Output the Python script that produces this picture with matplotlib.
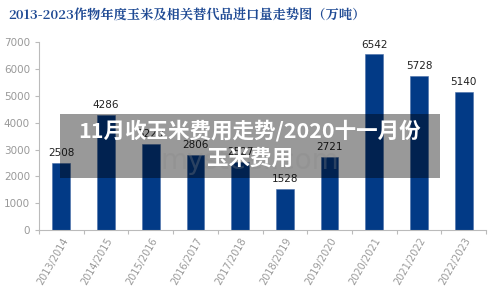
import matplotlib.pyplot as plt
import matplotlib.patches as mpatches
import numpy as np

plt.rcParams['font.family'] = ['Noto Sans CJK SC', 'DejaVu Sans']

seasons = ['2013/2014', '2014/2015', '2015/2016', '2016/2017', '2017/2018',
           '2018/2019', '2019/2020', '2020/2021', '2021/2022', '2022/2023']
imports = [2508, 4286, 3220, 2806, 2527, 1528, 2721, 6542, 5728, 5140]

title = '2013-2023作物年度玉米及相关替代品进口量走势图（万吨）'
banner_lines = ['11月收玉米费用走势/2020十一月份', '玉米费用']

fig = plt.figure(figsize=(5.0, 2.93), dpi=100)
ax = fig.add_axes([0.078, 0.215, 0.894, 0.641])

x = np.arange(len(seasons))
bars = ax.bar(x, imports, width=0.4, color='#023A86', edgecolor='#4A6FA8', linewidth=0.4, zorder=2)

for b, v in zip(bars, imports):
    ax.text(b.get_x() + b.get_width() / 2, v + 180, str(v), ha='center', va='bottom',
            fontsize=7.5, color='#222222', family='DejaVu Sans')

ax.set_xlim(-0.5, len(seasons) - 0.5)
ax.set_ylim(0, 7000)
ax.set_yticks(range(0, 7001, 1000))
ax.tick_params(axis='y', labelsize=7.5, labelcolor='#999999', color='#BBBBBB', length=3, width=0.8)
ax.set_xticks(x)
ax.set_xticklabels(seasons, rotation=60, ha='right', rotation_mode='anchor',
                   fontsize=7, color='#999999', family='DejaVu Sans')
ax.set_xticks(np.arange(-0.5, len(seasons)), minor=True)
ax.tick_params(axis='x', which='major', length=0, pad=4)
ax.tick_params(axis='x', which='minor', length=3, color='#BBBBBB', width=0.8)
for t in ax.get_yticklabels():
    t.set_family('DejaVu Sans')

for s in ['top', 'right']:
    ax.spines[s].set_visible(False)
for s in ['left', 'bottom']:
    ax.spines[s].set_color('#BBBBBB')
    ax.spines[s].set_linewidth(0.8)

fig.text(0.016, 0.945, title, ha='left', va='center', fontsize=9.5, fontweight='bold',
         color='#1F4A94', family=['Noto Serif CJK SC', 'Noto Sans CJK SC', 'DejaVu Sans'])

# faint watermark
fig.text(0.5, 0.45, 'mysteel.com', ha='center', va='center', fontsize=20,
         color='#E4E4E4', alpha=0.3, family='DejaVu Sans', zorder=0)

# grey banner over the chart
fig.patches.append(mpatches.Rectangle((0.12, 0.392), 0.76, 0.218, transform=fig.transFigure,
                                      facecolor='black', alpha=0.4, edgecolor='none', zorder=5))
fig.text(0.5, 0.553, banner_lines[0], ha='center', va='center', fontsize=15.5,
         fontweight='bold', color='white', zorder=6)
fig.text(0.5, 0.462, banner_lines[1], ha='center', va='center', fontsize=15.5,
         fontweight='bold', color='white', zorder=6)

fig.savefig('out.png', dpi=100)
